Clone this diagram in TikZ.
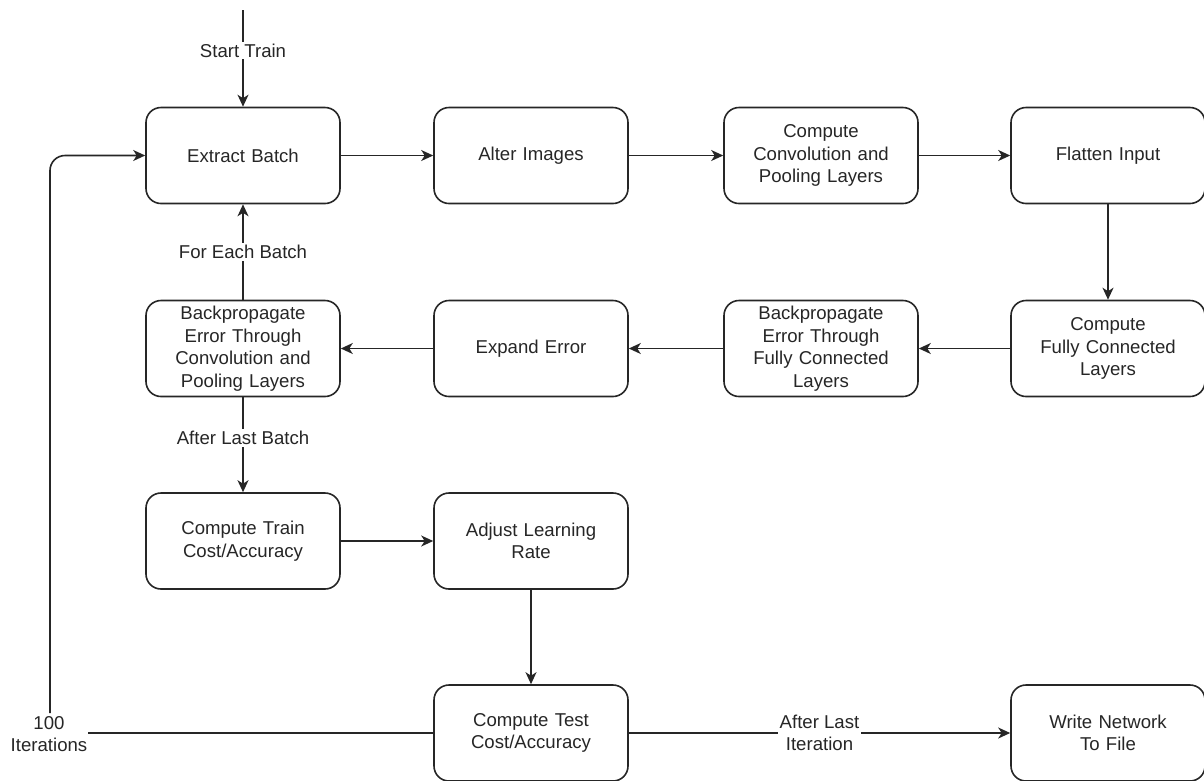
\documentclass[tikz,border=0pt]{standalone}
\usepackage{fontspec}
\setmainfont{Liberation Sans}
\usetikzlibrary{arrows.meta}
\begin{document}
\begin{tikzpicture}[x=1pt,y=-1pt,
  every node/.style={font=\fontsize{18.6}{22.5}\selectfont, text=black!85},
  box/.style={draw=black!85, rounded corners=15pt, minimum width=194pt, minimum height=96pt, align=center, text width=184pt, inner sep=0pt, line width=1.6pt},
  conn/.style={draw=black!85, line width=1.6pt},
  arr/.style={conn, -{Stealth[length=12pt,width=11pt,inset=3.5pt]}},
  lbl/.style={fill=white, inner sep=2pt, align=center}]
\useasboundingbox (0,0) rectangle (1204,780);
\node[box] (extract) at (243,155.5) {Extract Batch};
\node[box] (alter) at (531,155.5) {Alter Images};
\node[box] (conv) at (821,155.5) {Compute\\Convolution and\\Pooling Layers};
\node[box] (flat) at (1108,155.5) {Flatten Input};
\node[box] (fc) at (1108,348.5) {Compute\\Fully Connected\\Layers};
\node[box] (bpfc) at (821,348.5) {Backpropagate\\Error Through\\Fully Connected\\Layers};
\node[box] (expand) at (531,348.5) {Expand Error};
\node[box] (bpconv) at (243,348.5) {Backpropagate\\Error Through\\Convolution and\\Pooling Layers};
\node[box] (train) at (243,541) {Compute Train\\Cost/Accuracy};
\node[box] (lr) at (531,541) {Adjust Learning\\Rate};
\node[box] (test) at (531,733) {Compute Test\\Cost/Accuracy};
\node[box] (write) at (1108,733) {Write Network\\To File};
\node[lbl, inner sep=1pt] (iters) at (49,734) {100\\Iterations};
\coordinate (start) at (243,10);
\coordinate (loopend) at (50,713);

\draw[arr] (start) -- node[lbl, pos=0.42] {Start Train} (extract);
\draw[arr] (extract) -- (alter);
\draw[arr] (alter) -- (conv);
\draw[arr] (conv) -- (flat);
\draw[arr] (flat) -- (fc);
\draw[arr] (fc) -- (bpfc);
\draw[arr] (bpfc) -- (expand);
\draw[arr] (expand) -- (bpconv);
\draw[arr] (bpconv) -- node[lbl] {For Each Batch} (extract);
\draw[arr] (bpconv) -- node[lbl, pos=0.43] {After Last Batch} (train);
\draw[arr] (train) -- (lr);
\draw[arr] (lr) -- (test);
\draw[arr] (test) -- node[lbl] {After Last\\Iteration} (write);
\draw[conn] (test.west) -- (test.west -| iters.east);
\draw[arr, rounded corners=15pt] (loopend) |- (extract.west);
\end{tikzpicture}
\end{document}
